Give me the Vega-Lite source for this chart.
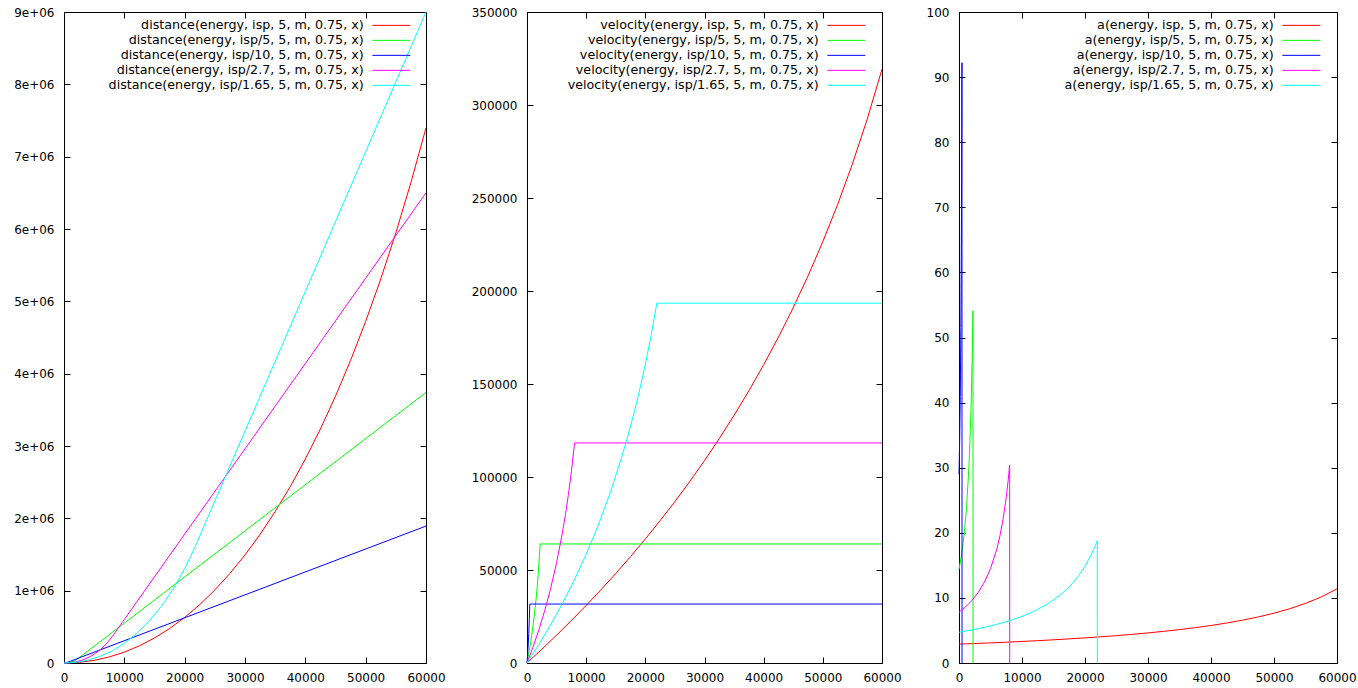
{
  "$schema": "https://vega.github.io/schema/vega-lite/v6.json",
  "background": "white",
  "autosize": {"type": "pad"},
  "padding": {"left": 13, "top": 6, "right": 0, "bottom": 0},
  "config": {
    "view": {"stroke": null},
    "axis": {"domainColor": "black", "tickColor": "black", "labelColor": "black", "labelFont": "DejaVu Sans", "labelFontSize": 12, "tickSize": -6, "grid": false, "labelFlush": false, "labelOverlap": false, "zindex": 1, "domainWidth": 1, "tickWidth": 1},
    "axisX": {"labelPadding": 15},
    "axisY": {"labelPadding": 16},
    "legend": {"labelFont": "DejaVu Sans", "labelFontSize": 12.7, "labelColor": "black", "symbolType": "M-4,0H4", "symbolSize": 90, "symbolStrokeWidth": 1, "symbolOpacity": 1, "symbolFillColor": "transparent", "labelAlign": "right", "labelOffset": -34, "rowPadding": 1, "padding": 0, "labelLimit": 1000}
  },
  "datasets": {
    "dist": [
      {"x": 0, "y": 0, "s": "isp"}, {"x": 2500, "y": 9098, "s": "isp"}, {"x": 5000, "y": 36623, "s": "isp"}, {"x": 7500, "y": 83502, "s": "isp"}, {"x": 10000, "y": 150220, "s": "isp"}, {"x": 12500, "y": 237450, "s": "isp"}, {"x": 15000, "y": 345676, "s": "isp"}, {"x": 17500, "y": 476288, "s": "isp"}, {"x": 20000, "y": 629819, "s": "isp"}, {"x": 22500, "y": 807240, "s": "isp"}, {"x": 25000, "y": 1009618, "s": "isp"}, {"x": 27500, "y": 1237993, "s": "isp"}, {"x": 30000, "y": 1493777, "s": "isp"}, {"x": 32500, "y": 1778244, "s": "isp"}, {"x": 35000, "y": 2092806, "s": "isp"}, {"x": 37500, "y": 2439223, "s": "isp"}, {"x": 40000, "y": 2819323, "s": "isp"}, {"x": 42500, "y": 3235097, "s": "isp"}, {"x": 45000, "y": 3688999, "s": "isp"}, {"x": 47500, "y": 4183737, "s": "isp"}, {"x": 50000, "y": 4722345, "s": "isp"}, {"x": 52500, "y": 5308411, "s": "isp"}, {"x": 55000, "y": 5946263, "s": "isp"}, {"x": 57500, "y": 6640925, "s": "isp"}, {"x": 60000, "y": 7398624, "s": "isp"},
      {"x": 0, "y": 0, "s": "isp/5"}, {"x": 400, "y": 1339, "s": "isp/5"}, {"x": 800, "y": 5637, "s": "isp/5"}, {"x": 1200, "y": 13430, "s": "isp/5"}, {"x": 1600, "y": 25492, "s": "isp/5"}, {"x": 2220, "y": 55805, "s": "isp/5"}, {"x": 60000, "y": 3740000, "s": "isp/5"},
      {"x": 0, "y": 0, "s": "isp/10"}, {"x": 200, "y": 891, "s": "isp/10"}, {"x": 470, "y": 6044, "s": "isp/10"}, {"x": 60000, "y": 1893026, "s": "isp/10"},
      {"x": 0, "y": 0, "s": "isp/2.7"}, {"x": 1000, "y": 4148, "s": "isp/2.7"}, {"x": 2000, "y": 17156, "s": "isp/2.7"}, {"x": 3000, "y": 40049, "s": "isp/2.7"}, {"x": 4000, "y": 74093, "s": "isp/2.7"}, {"x": 5000, "y": 120937, "s": "isp/2.7"}, {"x": 6000, "y": 182802, "s": "isp/2.7"}, {"x": 7000, "y": 262865, "s": "isp/2.7"}, {"x": 8040, "y": 370733, "s": "isp/2.7"}, {"x": 60000, "y": 6500000, "s": "isp/2.7"},
      {"x": 0, "y": 0, "s": "isp/1.65"}, {"x": 2000, "y": 9765, "s": "isp/1.65"}, {"x": 4000, "y": 40083, "s": "isp/1.65"}, {"x": 6000, "y": 92536, "s": "isp/1.65"}, {"x": 8000, "y": 169101, "s": "isp/1.65"}, {"x": 10000, "y": 271948, "s": "isp/1.65"}, {"x": 12000, "y": 403852, "s": "isp/1.65"}, {"x": 14000, "y": 568190, "s": "isp/1.65"}, {"x": 16000, "y": 769219, "s": "isp/1.65"}, {"x": 17000, "y": 885152, "s": "isp/1.65"}, {"x": 18000, "y": 1012475, "s": "isp/1.65"}, {"x": 19000, "y": 1152182, "s": "isp/1.65"}, {"x": 20000, "y": 1305494, "s": "isp/1.65"}, {"x": 21000, "y": 1473852, "s": "isp/1.65"}, {"x": 21950, "y": 1649411, "s": "isp/1.65"}, {"x": 60000, "y": 9000000, "s": "isp/1.65"}
    ],
    "vel": [
      {"x": 0, "y": 0, "s": "isp"}, {"x": 2500, "y": 7363, "s": "isp"}, {"x": 5000, "y": 14968, "s": "isp"}, {"x": 7500, "y": 22826, "s": "isp"}, {"x": 10000, "y": 30958, "s": "isp"}, {"x": 12500, "y": 39384, "s": "isp"}, {"x": 15000, "y": 48129, "s": "isp"}, {"x": 17500, "y": 57211, "s": "isp"}, {"x": 20000, "y": 66661, "s": "isp"}, {"x": 22500, "y": 76511, "s": "isp"}, {"x": 25000, "y": 86794, "s": "isp"}, {"x": 27500, "y": 97554, "s": "isp"}, {"x": 30000, "y": 108831, "s": "isp"}, {"x": 32500, "y": 120681, "s": "isp"}, {"x": 35000, "y": 133165, "s": "isp"}, {"x": 37500, "y": 146355, "s": "isp"}, {"x": 40000, "y": 160334, "s": "isp"}, {"x": 42500, "y": 175206, "s": "isp"}, {"x": 45000, "y": 191091, "s": "isp"}, {"x": 47500, "y": 208134, "s": "isp"}, {"x": 50000, "y": 226521, "s": "isp"}, {"x": 52500, "y": 246483, "s": "isp"}, {"x": 55000, "y": 268311, "s": "isp"}, {"x": 57500, "y": 292395, "s": "isp"}, {"x": 60000, "y": 319252, "s": "isp"},
      {"x": 0, "y": 0, "s": "isp/5"}, {"x": 400, "y": 6857, "s": "isp/5"}, {"x": 800, "y": 14849, "s": "isp/5"}, {"x": 1200, "y": 24430, "s": "isp/5"}, {"x": 1600, "y": 36391, "s": "isp/5"}, {"x": 1900, "y": 47819, "s": "isp/5"}, {"x": 2220, "y": 64000, "s": "isp/5"}, {"x": 60000, "y": 64000, "s": "isp/5"},
      {"x": 0, "y": 0, "s": "isp/10"}, {"x": 100, "y": 4320, "s": "isp/10"}, {"x": 200, "y": 9450, "s": "isp/10"}, {"x": 300, "y": 15769, "s": "isp/10"}, {"x": 400, "y": 23994, "s": "isp/10"}, {"x": 470, "y": 31698, "s": "isp/10"}, {"x": 60000, "y": 31698, "s": "isp/10"},
      {"x": 0, "y": 0, "s": "isp/2.7"}, {"x": 1000, "y": 8429, "s": "isp/2.7"}, {"x": 2000, "y": 17765, "s": "isp/2.7"}, {"x": 3000, "y": 28228, "s": "isp/2.7"}, {"x": 4000, "y": 40128, "s": "isp/2.7"}, {"x": 5000, "y": 53922, "s": "isp/2.7"}, {"x": 6000, "y": 70332, "s": "isp/2.7"}, {"x": 6500, "y": 79870, "s": "isp/2.7"}, {"x": 7000, "y": 90587, "s": "isp/2.7"}, {"x": 7500, "y": 102816, "s": "isp/2.7"}, {"x": 8040, "y": 118302, "s": "isp/2.7"}, {"x": 60000, "y": 118302, "s": "isp/2.7"},
      {"x": 0, "y": 0, "s": "isp/1.65"}, {"x": 2000, "y": 9899, "s": "isp/1.65"}, {"x": 4000, "y": 20549, "s": "isp/1.65"}, {"x": 6000, "y": 32078, "s": "isp/1.65"}, {"x": 8000, "y": 44639, "s": "isp/1.65"}, {"x": 10000, "y": 58440, "s": "isp/1.65"}, {"x": 12000, "y": 73750, "s": "isp/1.65"}, {"x": 14000, "y": 90941, "s": "isp/1.65"}, {"x": 16000, "y": 110539, "s": "isp/1.65"}, {"x": 17000, "y": 121473, "s": "isp/1.65"}, {"x": 18000, "y": 133333, "s": "isp/1.65"}, {"x": 19000, "y": 146291, "s": "isp/1.65"}, {"x": 20000, "y": 160569, "s": "isp/1.65"}, {"x": 21000, "y": 176471, "s": "isp/1.65"}, {"x": 21950, "y": 193457, "s": "isp/1.65"}, {"x": 60000, "y": 193457, "s": "isp/1.65"}
    ],
    "acc": [
      {"x": 0, "y": 2.899, "s": "isp"}, {"x": 2500, "y": 2.992, "s": "isp"}, {"x": 5000, "y": 3.091, "s": "isp"}, {"x": 7500, "y": 3.197, "s": "isp"}, {"x": 10000, "y": 3.311, "s": "isp"}, {"x": 12500, "y": 3.432, "s": "isp"}, {"x": 15000, "y": 3.563, "s": "isp"}, {"x": 17500, "y": 3.705, "s": "isp"}, {"x": 20000, "y": 3.858, "s": "isp"}, {"x": 22500, "y": 4.024, "s": "isp"}, {"x": 25000, "y": 4.205, "s": "isp"}, {"x": 27500, "y": 4.404, "s": "isp"}, {"x": 30000, "y": 4.622, "s": "isp"}, {"x": 32500, "y": 4.863, "s": "isp"}, {"x": 35000, "y": 5.13, "s": "isp"}, {"x": 37500, "y": 5.428, "s": "isp"}, {"x": 40000, "y": 5.763, "s": "isp"}, {"x": 42500, "y": 6.142, "s": "isp"}, {"x": 45000, "y": 6.575, "s": "isp"}, {"x": 47500, "y": 7.073, "s": "isp"}, {"x": 50000, "y": 7.652, "s": "isp"}, {"x": 52500, "y": 8.336, "s": "isp"}, {"x": 55000, "y": 9.153, "s": "isp"}, {"x": 57500, "y": 10.148, "s": "isp"}, {"x": 60000, "y": 11.385, "s": "isp"},
      {"x": 0, "y": 14.4, "s": "isp/5"}, {"x": 400, "y": 16.594, "s": "isp/5"}, {"x": 800, "y": 19.578, "s": "isp/5"}, {"x": 1200, "y": 23.868, "s": "isp/5"}, {"x": 1600, "y": 30.568, "s": "isp/5"}, {"x": 1900, "y": 38.72, "s": "isp/5"}, {"x": 2100, "y": 47.09, "s": "isp/5"}, {"x": 2220, "y": 54.11, "s": "isp/5"}, {"x": 2230, "y": 0, "s": "isp/5"},
      {"x": 0, "y": 29.0, "s": "isp/10"}, {"x": 100, "y": 33.95, "s": "isp/10"}, {"x": 200, "y": 40.94, "s": "isp/10"}, {"x": 300, "y": 51.56, "s": "isp/10"}, {"x": 400, "y": 69.61, "s": "isp/10"}, {"x": 470, "y": 92.21, "s": "isp/10"}, {"x": 480, "y": 0, "s": "isp/10"},
      {"x": 0, "y": 7.78, "s": "isp/2.7"}, {"x": 1000, "y": 8.574, "s": "isp/2.7"}, {"x": 2000, "y": 9.548, "s": "isp/2.7"}, {"x": 3000, "y": 10.771, "s": "isp/2.7"}, {"x": 4000, "y": 12.355, "s": "isp/2.7"}, {"x": 5000, "y": 14.483, "s": "isp/2.7"}, {"x": 6000, "y": 17.498, "s": "isp/2.7"}, {"x": 6500, "y": 19.531, "s": "isp/2.7"}, {"x": 7000, "y": 22.098, "s": "isp/2.7"}, {"x": 7500, "y": 25.442, "s": "isp/2.7"}, {"x": 7800, "y": 27.983, "s": "isp/2.7"}, {"x": 8040, "y": 30.412, "s": "isp/2.7"}, {"x": 8050, "y": 0, "s": "isp/2.7"},
      {"x": 0, "y": 4.724, "s": "isp/1.65"}, {"x": 2000, "y": 5.07, "s": "isp/1.65"}, {"x": 4000, "y": 5.47, "s": "isp/1.65"}, {"x": 6000, "y": 5.939, "s": "isp/1.65"}, {"x": 8000, "y": 6.496, "s": "isp/1.65"}, {"x": 10000, "y": 7.169, "s": "isp/1.65"}, {"x": 12000, "y": 7.997, "s": "isp/1.65"}, {"x": 14000, "y": 9.041, "s": "isp/1.65"}, {"x": 16000, "y": 10.398, "s": "isp/1.65"}, {"x": 17000, "y": 11.242, "s": "isp/1.65"}, {"x": 18000, "y": 12.235, "s": "isp/1.65"}, {"x": 19000, "y": 13.421, "s": "isp/1.65"}, {"x": 20000, "y": 14.861, "s": "isp/1.65"}, {"x": 21000, "y": 16.647, "s": "isp/1.65"}, {"x": 21500, "y": 17.711, "s": "isp/1.65"}, {"x": 21950, "y": 18.792, "s": "isp/1.65"}, {"x": 21960, "y": 0, "s": "isp/1.65"}
    ]
  },
  "spacing": 101,
  "bounds": "flush",
  "resolve": {"scale": {"color": "independent", "x": "independent", "y": "independent"}},
  "hconcat": [
    {
      "width": 362, "height": 651,
      "data": {"name": "dist"},
      "layer": [
        {
          "mark": {"type": "line", "strokeWidth": 1},
          "encoding": {
            "x": {"field": "x", "type": "quantitative", "scale": {"domain": [0, 60000], "nice": false, "zero": false}, "axis": {"title": null, "orient": "bottom", "values": [0, 10000, 20000, 30000, 40000, 50000, 60000], "format": "d"}},
            "y": {"field": "y", "type": "quantitative", "scale": {"domain": [0, 9000000], "nice": false}, "axis": {"title": null, "orient": "left", "values": [0, 1000000, 2000000, 3000000, 4000000, 5000000, 6000000, 7000000, 8000000, 9000000], "labelExpr": "datum.value == 0 ? '0' : replace(format(datum.value, '.0e'), 'e+', 'e+0')"}},
            "color": {"field": "s", "type": "nominal", "scale": {"domain": ["isp", "isp/5", "isp/10", "isp/2.7", "isp/1.65"], "range": ["#ff0000", "#00ff00", "#0000ff", "#ff00ff", "#00ffff"]}, "legend": {"title": null, "orient": "none", "legendX": 321, "legendY": 7, "labelExpr": "'distance(energy, ' + datum.label + ', 5, m, 0.75, x)'"}}
          }
        },
        {
          "mark": {"type": "line", "strokeOpacity": 0},
          "encoding": {
            "x": {"field": "x", "type": "quantitative", "axis": {"title": null, "orient": "top", "labels": false, "values": [0, 10000, 20000, 30000, 40000, 50000, 60000]}},
            "y": {"field": "y", "type": "quantitative", "axis": {"title": null, "orient": "right", "labels": false, "values": [0, 1000000, 2000000, 3000000, 4000000, 5000000, 6000000, 7000000, 8000000, 9000000]}},
            "detail": {"field": "s"}
          }
        }
      ],
      "resolve": {"axis": {"x": "independent", "y": "independent"}}
    },
    {
      "spacing": 77,
      "bounds": "flush",
      "resolve": {"scale": {"color": "independent", "x": "independent", "y": "independent"}},
      "hconcat": [
        {
          "width": 355, "height": 651,
          "data": {"name": "vel"},
          "layer": [
            {
              "mark": {"type": "line", "strokeWidth": 1},
              "encoding": {
                "x": {"field": "x", "type": "quantitative", "scale": {"domain": [0, 60000], "nice": false, "zero": false}, "axis": {"title": null, "orient": "bottom", "values": [0, 10000, 20000, 30000, 40000, 50000, 60000], "format": "d"}},
                "y": {"field": "y", "type": "quantitative", "scale": {"domain": [0, 350000], "nice": false}, "axis": {"title": null, "orient": "left", "values": [0, 50000, 100000, 150000, 200000, 250000, 300000, 350000], "format": "d"}},
                "color": {"field": "s", "type": "nominal", "scale": {"domain": ["isp", "isp/5", "isp/10", "isp/2.7", "isp/1.65"], "range": ["#ff0000", "#00ff00", "#0000ff", "#ff00ff", "#00ffff"]}, "legend": {"title": null, "orient": "none", "legendX": 313, "legendY": 7, "labelExpr": "'velocity(energy, ' + datum.label + ', 5, m, 0.75, x)'"}}
              }
            },
            {
              "mark": {"type": "line", "strokeOpacity": 0},
              "encoding": {
                "x": {"field": "x", "type": "quantitative", "axis": {"title": null, "orient": "top", "labels": false, "values": [0, 10000, 20000, 30000, 40000, 50000, 60000]}},
                "y": {"field": "y", "type": "quantitative", "axis": {"title": null, "orient": "right", "labels": false, "values": [0, 50000, 100000, 150000, 200000, 250000, 300000, 350000]}},
                "detail": {"field": "s"}
              }
            }
          ],
          "resolve": {"axis": {"x": "independent", "y": "independent"}}
        },
        {
          "width": 378, "height": 651,
          "data": {"name": "acc"},
          "layer": [
            {
              "mark": {"type": "line", "strokeWidth": 1},
              "encoding": {
                "x": {"field": "x", "type": "quantitative", "scale": {"domain": [0, 60000], "nice": false, "zero": false}, "axis": {"title": null, "orient": "bottom", "values": [0, 10000, 20000, 30000, 40000, 50000, 60000], "format": "d"}},
                "y": {"field": "y", "type": "quantitative", "scale": {"domain": [0, 100], "nice": false}, "axis": {"title": null, "orient": "left", "values": [0, 10, 20, 30, 40, 50, 60, 70, 80, 90, 100], "format": "d"}},
                "color": {"field": "s", "type": "nominal", "scale": {"domain": ["isp", "isp/5", "isp/10", "isp/2.7", "isp/1.65"], "range": ["#ff0000", "#00ff00", "#0000ff", "#ff00ff", "#00ffff"]}, "legend": {"title": null, "orient": "none", "legendX": 336, "legendY": 7, "labelExpr": "'a(energy, ' + datum.label + ', 5, m, 0.75, x)'"}}
              }
            },
            {
              "mark": {"type": "line", "strokeOpacity": 0},
              "encoding": {
                "x": {"field": "x", "type": "quantitative", "axis": {"title": null, "orient": "top", "labels": false, "values": [0, 10000, 20000, 30000, 40000, 50000, 60000]}},
                "y": {"field": "y", "type": "quantitative", "axis": {"title": null, "orient": "right", "labels": false, "values": [0, 10, 20, 30, 40, 50, 60, 70, 80, 90, 100]}},
                "detail": {"field": "s"}
              }
            }
          ],
          "resolve": {"axis": {"x": "independent", "y": "independent"}}
        }
      ]
    }
  ]
}
